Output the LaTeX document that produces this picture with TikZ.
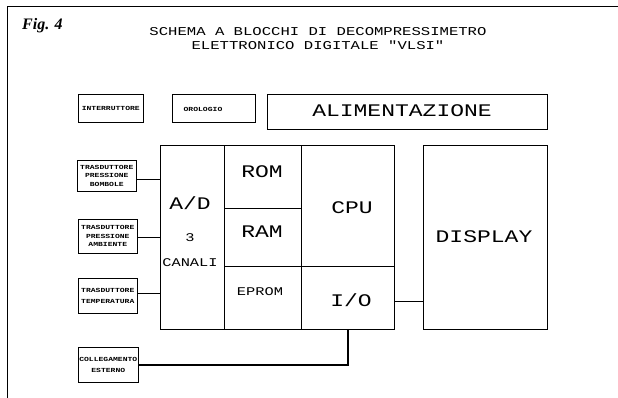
\documentclass[tikz,border=0pt]{standalone}
\usepackage{fontspec}
\newfontfamily\plotfont[FakeStretch=1.3]{Liberation Mono}
\newfontfamily\figfont{Liberation Serif}
\tikzset{
  blk/.style={draw, rectangle, inner sep=0pt, anchor=north west, line width=0.6pt},
  big/.style={font=\plotfont\fontsize{17.7}{20}\selectfont, text height=12pt, text depth=0pt, inner sep=0pt},
  sml/.style={font=\plotfont\fontsize{11.8}{14}\selectfont, text height=8pt, text depth=0pt, inner sep=0pt},
  ttl/.style={font=\plotfont\fontsize{12}{14}\selectfont, text height=8pt, text depth=0pt, inner sep=0pt},
  tinylbl/.style={font=\plotfont\bfseries\fontsize{6.2}{8.5}\selectfont, align=center, inner sep=0pt},
  conn/.style={line width=1.4pt},
  frame/.style={line width=0.6pt}
}
\begin{document}
\begin{tikzpicture}[x=1pt,y=-1pt]
\useasboundingbox (0,0) rectangle (618,398);
% frame
\draw[frame] (7,398) -- (7,6) -- (618,6);
\node[anchor=base west, inner sep=0pt, font=\figfont\bfseries\itshape\fontsize{16}{18}\selectfont] (fig) at (22,30) {Fig. 4};
% title
\node[ttl] (t1) at (318,32) {SCHEMA A BLOCCHI DI DECOMPRESSIMETRO};
\node[ttl] (t2) at (318,46) {ELETTRONICO DIGITALE "VLSI"};
% top row
\node[blk, minimum width=65pt, minimum height=28pt, tinylbl] (intr) at (78,94) {INTERRUTTORE};
\node[blk, minimum width=83pt, minimum height=28pt] (orol) at (172,94) {};
\node[tinylbl] (orolt) at (203,109) {OROLOGIO};
\node[blk, minimum width=280pt, minimum height=35pt] (alim) at (267,94) {};
\node[big] (alimt) at (402,111) {ALIMENTAZIONE};
% left transducers
\node[blk, minimum width=59pt, minimum height=31pt, tinylbl] (tb1) at (77,160) {TRASDUTTORE\\PRESSIONE\\BOMBOLE};
\node[blk, minimum width=59pt, minimum height=34pt, tinylbl] (tb2) at (78,219) {TRASDUTTORE\\PRESSIONE\\AMBIENTE};
\node[blk, minimum width=59pt, minimum height=35pt, tinylbl] (tb3) at (78,278) {TRASDUTTORE\\[2.5pt]TEMPERATURA};
\node[blk, minimum width=60pt, minimum height=35pt, tinylbl] (coll) at (78,347) {COLLEGAMENTO\\[2.5pt]ESTERNO};
% main block
\node[blk, minimum width=64pt, minimum height=184pt] (ad) at (160,145) {};
\node[blk, minimum width=77pt, minimum height=63pt] (rom) at (224,145) {};
\node[blk, minimum width=77pt, minimum height=58pt] (ram) at (224,208) {};
\node[blk, minimum width=77pt, minimum height=63pt] (eprom) at (224,266) {};
\node[blk, minimum width=93pt, minimum height=121pt] (cpu) at (301,145) {};
\node[blk, minimum width=93pt, minimum height=63pt] (io) at (301,266) {};
\node[blk, minimum width=124pt, minimum height=184pt] (disp) at (423,145) {};
% labels
\node[big] (adt) at (190,203) {A/D};
\node[sml] (adn) at (190,237) {3};
\node[sml] (adc) at (190,262) {CANALI};
\node[big] (romt) at (262,172) {ROM};
\node[big] (ramt) at (262,231) {RAM};
\node[sml] (epromt) at (260,291) {EPROM};
\node[big] (cput) at (352,207) {CPU};
\node[big] (iot) at (351,300) {I/O};
\node[big] (dispt) at (484,236) {DISPLAY};
% connectors
\draw[conn] ([yshift=-3.5pt]tb1.east) -- ([yshift=-3.5pt]tb1.east -| ad.west);
\draw[conn] ([yshift=-1pt]tb2.east) -- ([yshift=-1pt]tb2.east -| ad.west);
\draw[conn] ([yshift=2.5pt]tb3.east) -- ([yshift=2.5pt]tb3.east -| ad.west);
\draw[conn] (coll.east) -| (io.south);
\draw[conn] ([yshift=-3.5pt]io.east) -- ([yshift=-3.5pt]io.east -| disp.west);
\end{tikzpicture}
\end{document}
